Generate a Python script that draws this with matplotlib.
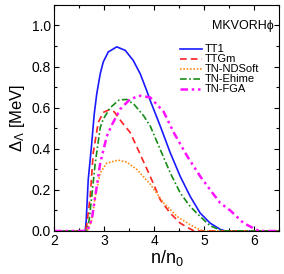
import matplotlib
matplotlib.use("Agg")
import matplotlib.pyplot as plt
from matplotlib.ticker import MultipleLocator

plt.rcParams['font.family'] = ['Liberation Sans', 'DejaVu Sans']
plt.rcParams['mathtext.fontset'] = 'custom'
plt.rcParams['mathtext.rm'] = 'Liberation Sans'
plt.rcParams['mathtext.it'] = 'Liberation Sans'

labels = ["TT1", "TTGm", "TN-NDSoft", "TN-Ehime", "TN-FGA"]

x_tt1 = [2.0, 2.6, 2.62, 2.64, 2.68, 2.74, 2.8, 2.85, 2.92, 2.98, 3.08, 3.25, 3.42, 3.58, 3.72, 3.85, 3.92,
         4.12, 4.32, 4.52, 4.72, 4.92, 5.12, 5.32, 5.42, 6.5]
y_tt1 = [0, 0, 0, 0.054, 0.25, 0.40, 0.569, 0.667, 0.765, 0.822, 0.871, 0.896, 0.879, 0.83, 0.765, 0.683, 0.635,
         0.511, 0.381, 0.266, 0.168, 0.087, 0.038, 0.008, 0, 0]

x_ttgm = [2.0, 2.62, 2.65, 2.72, 2.78, 2.88, 2.98, 3.1, 3.2, 3.35, 3.52, 3.72, 3.92, 4.12, 4.32, 4.52, 4.72, 4.8, 6.5]
y_ttgm = [0, 0, 0.03, 0.168, 0.38, 0.528, 0.577, 0.59, 0.58, 0.53, 0.479, 0.373, 0.266, 0.152, 0.087, 0.038, 0.01, 0, 0]

x_nds = [2.0, 2.66, 2.75, 2.82, 2.92, 3.05, 3.28, 3.45, 3.65, 3.92, 4.19, 4.46, 4.72, 4.92, 5.02, 6.5]
y_nds = [0, 0, 0.054, 0.168, 0.283, 0.33, 0.345, 0.335, 0.3, 0.228, 0.136, 0.07, 0.03, 0.005, 0, 0]

x_ehi = [2.0, 2.64, 2.70, 2.75, 2.82, 2.92, 2.98, 3.12, 3.3, 3.45, 3.6, 3.79, 3.92, 4.12, 4.32, 4.52, 4.72,
         4.92, 5.12, 5.32, 5.4, 6.5]
y_ehi = [0, 0, 0.054, 0.168, 0.33, 0.503, 0.544, 0.6, 0.638, 0.64, 0.615, 0.56, 0.511, 0.397, 0.283, 0.185, 0.119,
         0.07, 0.025, 0.005, 0, 0]

x_fga = [2.0, 2.66, 2.75, 2.82, 2.92, 3.05, 3.15, 3.32, 3.52, 3.72, 3.92, 4.19, 4.39, 4.66, 4.92, 5.12, 5.32,
         5.52, 5.79, 5.99, 6.1, 6.5]
y_fga = [0, 0, 0.054, 0.168, 0.33, 0.46, 0.515, 0.593, 0.642, 0.658, 0.65, 0.58, 0.479, 0.364, 0.266, 0.2, 0.136,
         0.1, 0.038, 0.013, 0, 0]

fig = plt.figure(figsize=(2.84, 2.74), dpi=100)
ax = fig.add_axes([0.191, 0.157, 0.792, 0.825])

ax.plot(x_tt1, y_tt1, color='#1a1aff', lw=1.2, label=labels[0])
ax.plot(x_ttgm, y_ttgm, color='#ff2020', lw=1.2, dashes=(4, 2.5), label=labels[1])
ax.plot(x_nds, y_nds, color='#ff8c1a', lw=1.2, dashes=(1, 1), label=labels[2])
ax.plot(x_ehi, y_ehi, color='#168c16', lw=1.2, dashes=(4, 1.5, 1, 1.5), label=labels[3])
ax.plot(x_fga, y_fga, color='#ff10ff', lw=1.8, dashes=(3, 1.5, 1, 1.5, 1, 1.5), label=labels[4])

ax.set_xlim(2, 6.5)
ax.set_ylim(0, 1.1)
ax.xaxis.set_major_locator(MultipleLocator(1))
ax.xaxis.set_minor_locator(MultipleLocator(0.5))
ax.yaxis.set_major_locator(MultipleLocator(0.2))
ax.yaxis.set_minor_locator(MultipleLocator(0.1))
ax.yaxis.set_major_formatter(matplotlib.ticker.FormatStrFormatter('%.1f'))
ax.tick_params(which='both', direction='in', top=True, right=True, labelsize=10, width=0.8, pad=2.5)
ax.tick_params(which='major', length=3.6)
ax.tick_params(which='minor', length=2.2)
for s in ax.spines.values():
    s.set_linewidth(0.8)

ax.set_xlabel(r'n/n$_0$', fontsize=13, labelpad=0)
ax.set_ylabel(r'$\Delta_\Lambda$ [MeV]', fontsize=12, labelpad=3)

ax.text(0.975, 0.905, 'MKVORHϕ', transform=ax.transAxes, ha='right', va='center', fontsize=9)
ax.legend(loc='upper left', bbox_to_anchor=(0.56, 0.825), frameon=False, fontsize=8,
          handlelength=2.0, handletextpad=0.2, labelspacing=0.0, borderaxespad=0.0,
          borderpad=0.0)

fig.savefig('out.png', dpi=100)
